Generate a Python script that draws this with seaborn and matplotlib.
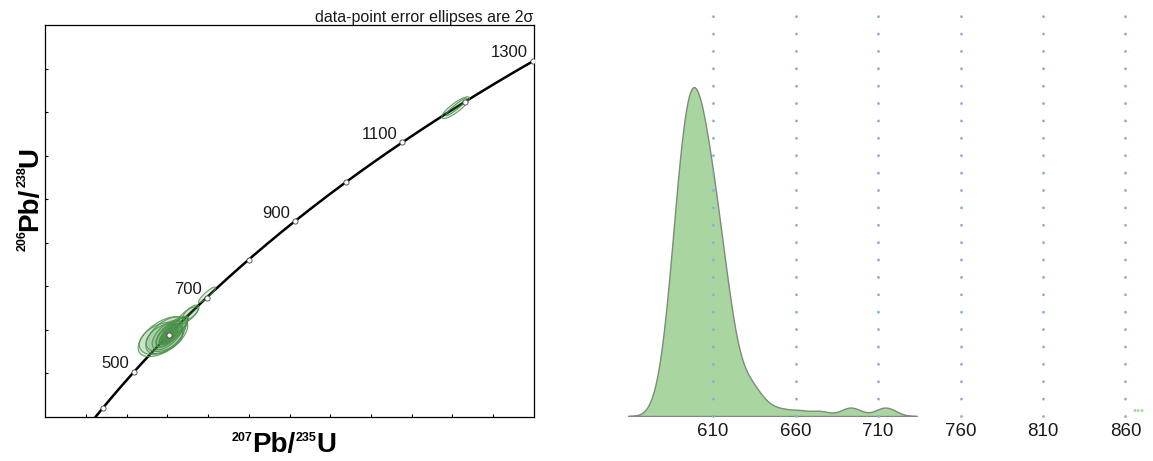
import numpy as np
import pandas as pd
import matplotlib
matplotlib.use("Agg")
import matplotlib.pyplot as plt
from matplotlib.transforms import IdentityTransform
import seaborn as sns

# --- U-Pb decay constants (1/yr) ---
LAMBDA_238 = 1.55125e-10
LAMBDA_235 = 9.8485e-10

# --- Concordia age marks (Ma) ---
concordia_tick_ages = [400, 500, 600, 700, 800, 900, 1000, 1100, 1200, 1300]
concordia_label_ages = [500, 700, 900, 1100, 1300]

# --- Zircon spot analyses: ratios, 2-sigma errors, error correlation ---
pb207_u235 = [0.778, 0.770, 0.792, 0.785, 0.800, 0.806, 0.796, 0.810, 0.800, 0.815,
              0.792, 0.805, 0.820, 0.798, 0.810, 0.835, 0.845, 0.858, 0.900, 0.915,
              0.995, 2.216, 2.220]
pb206_u238 = [0.0968, 0.0960, 0.0974, 0.0964, 0.0976, 0.0980, 0.0972, 0.0978, 0.0971, 0.0984,
              0.0968, 0.0975, 0.0988, 0.0974, 0.0980, 0.1000, 0.1008, 0.1020, 0.1065, 0.1078,
              0.1160, 0.2020, 0.2024]
err_207_235 = [0.122, 0.108, 0.098, 0.090, 0.075, 0.062, 0.052, 0.046, 0.040, 0.036,
               0.032, 0.028, 0.030, 0.024, 0.022, 0.065, 0.055, 0.045, 0.050, 0.040,
               0.042, 0.068, 0.052]
err_206_238 = [0.0092, 0.0074, 0.0084, 0.0064, 0.0068, 0.0060, 0.0052, 0.0046, 0.0040, 0.0038,
               0.0034, 0.0030, 0.0032, 0.0028, 0.0026, 0.0060, 0.0050, 0.0042, 0.0040, 0.0035,
               0.0036, 0.0050, 0.0040]
err_rho = [0.55, 0.40, 0.55, 0.40, 0.60, 0.65, 0.65, 0.70, 0.70, 0.70,
           0.70, 0.70, 0.70, 0.65, 0.65, 0.70, 0.75, 0.75, 0.75, 0.70,
           0.90, 0.86, 0.94]

# --- Age distribution (Ma) with grain counts ---
kde_ages = [575, 580, 585, 590, 595, 600, 605, 610, 615, 620, 625,
            630, 635, 640, 645, 653, 663, 675, 691, 696, 712, 717]
kde_counts = [1, 4, 12, 22, 28, 27, 24, 19, 15, 9, 4,
              3, 3, 1, 1, 1, 1, 1, 1, 1, 1, 1]
kde_bandwidth = 5.5  # Ma

density_ticks = [610, 660, 710, 760, 810, 860]

# --- styling ---
sns.set_style("white")
plt.rcParams["font.family"] = ["Liberation Sans", "DejaVu Sans"]

fig = plt.figure(figsize=(11.53, 4.61), dpi=100)
W, H = 1153, 461


def isotope_label(pieces, center, baseline, vertical=False, main_size=20):
    """Lay out bold text pieces with raised small mass numbers (display px)."""
    renderer = fig.canvas.get_renderer()
    placed = []
    for s, size in pieces:
        t = fig.text(0, 0, s, fontsize=size, fontweight="bold", color="black",
                     transform=IdentityTransform(), rotation=90 if vertical else 0,
                     rotation_mode="anchor", ha="left", va="baseline")
        ext = t.get_window_extent(renderer)
        placed.append((t, ext.height if vertical else ext.width, size))
    pos = center - sum(p[1] for p in placed) / 2
    for t, length, size in placed:
        lift = 0.716 * (main_size - size) * 100 / 72
        if vertical:
            t.set_position((baseline - lift, pos))
        else:
            t.set_position((pos, baseline + lift))
        pos += length


# ================= Concordia diagram =================
ax = fig.add_axes([45.3 / W, (H - 416.7) / H, 488.4 / W, 391.7 / H])
ax.set_xlim(0.2, 2.6)
ax.set_ylim(0.06, 0.24)

t = np.linspace(360, 1300, 500) * 1e6
curve = pd.DataFrame({"r207": np.exp(LAMBDA_235 * t) - 1,
                      "r206": np.exp(LAMBDA_238 * t) - 1})
sns.lineplot(data=curve, x="r207", y="r206", sort=False, estimator=None,
             color="black", linewidth=1.8, ax=ax, zorder=2)

# error ellipses
theta = np.linspace(0, 2 * np.pi, 120)
for cx, cy, ex, ey, r in zip(pb207_u235, pb206_u238, err_207_235, err_206_238, err_rho):
    xs = cx + ex * np.cos(theta)
    ys = cy + ey * (r * np.cos(theta) + np.sqrt(1 - r * r) * np.sin(theta))
    ax.fill(xs, ys, facecolor=(0.30, 0.62, 0.30, 0.15),
            edgecolor=(0.30, 0.56, 0.30, 0.85), linewidth=0.8, zorder=3)

tick_t = np.array(concordia_tick_ages) * 1e6
marks = pd.DataFrame({"r207": np.exp(LAMBDA_235 * tick_t) - 1,
                      "r206": np.exp(LAMBDA_238 * tick_t) - 1,
                      "age": concordia_tick_ages})
sns.scatterplot(data=marks, x="r207", y="r206", marker="o", s=14,
                facecolor="white", edgecolor="#444444", linewidth=0.6,
                ax=ax, zorder=5, legend=False)
for _, row in marks[marks["age"].isin(concordia_label_ages)].iterrows():
    ax.annotate(f"{int(row['age'])}", (row["r207"], row["r206"]),
                xytext=(-3.6, 5.8), textcoords="offset points",
                ha="right", va="center", fontsize=12, color="#1a1a1a")

ax.set_xticks(np.arange(0.4, 2.41, 0.2))
ax.set_yticks(np.arange(0.08, 0.221, 0.02))
ax.tick_params(direction="in", length=2.5, width=0.8, color="black",
               labelbottom=False, labelleft=False, bottom=True, left=True)
for sp in ax.spines.values():
    sp.set_color("black")
    sp.set_linewidth(0.9)
ax.set_xlabel("")
ax.set_ylabel("")

ax.text(1.0, 1.0085, "data-point error ellipses are 2\u03c3", transform=ax.transAxes,
        ha="right", va="baseline", fontsize=11.5, color="#1a1a1a")

# axis titles: 207Pb/235U and 206Pb/238U
isotope_label([("207", 9), ("Pb/", 20), ("235", 9), ("U", 20)],
              center=284, baseline=H - 452)
isotope_label([("206", 9), ("Pb/", 20), ("238", 9), ("U", 20)],
              center=H - 199, baseline=37, vertical=True)

# ================= Age density =================
ax2 = fig.add_axes([600 / W, 45 / H, 550 / W, 406 / H])
grain_ages = np.repeat(kde_ages, kde_counts)
bw_factor = kde_bandwidth / np.std(grain_ages, ddof=1)
sns.kdeplot(x=grain_ages, bw_method=bw_factor, cut=3,
            fill=True, facecolor="#a9d6a0", edgecolor="#7b8c78", linewidth=1.0,
            alpha=1, ax=ax2, zorder=2)
ax2.set_xlim(541.5, 874.85)
peak = ax2.collections[0].get_paths()[0].vertices[:, 1].max()
ax2.set_ylim(0, peak / 0.81)

for xt in density_ticks:
    ax2.axvline(xt, ymin=0, ymax=0.99, color="#86afe0", linewidth=2.1,
                linestyle=(0, (0.01, 5.95)), dash_capstyle="round", zorder=3,
                clip_on=False)

ax2.text(864.0, 0.0, "\u2022\u2022\u2022", color="#a9d6a0", fontsize=8,
         ha="left", va="bottom", zorder=4)

ax2.set_xticks(density_ticks)
ax2.set_xticklabels([str(v) for v in density_ticks])
ax2.set_yticks([])
ax2.tick_params(axis="x", length=0, pad=5, labelsize=13.5, labelcolor="#1a1a1a")
ax2.set_xlabel("")
ax2.set_ylabel("")
sns.despine(ax=ax2, left=True, bottom=True, top=True, right=True)

fig.savefig("out.png", dpi=100)
